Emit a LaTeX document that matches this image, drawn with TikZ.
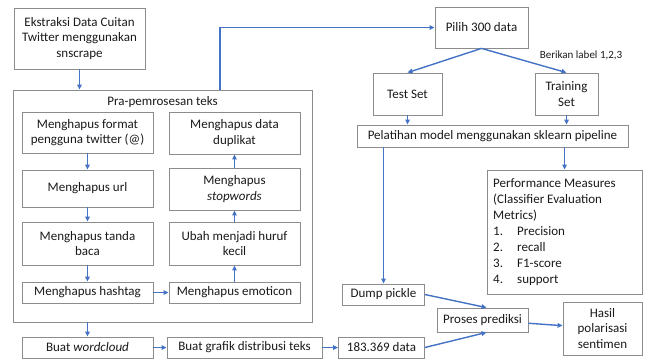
\documentclass[tikz,border=0pt]{standalone}
\usepackage{fontspec}
\setmainfont{Carlito}
\usetikzlibrary{arrows.meta}
\definecolor{arrblue}{HTML}{4472C4}
\definecolor{boxgray}{HTML}{8C8C8C}
\definecolor{txt}{HTML}{1A1A1A}
\tikzset{
  box/.style={draw=boxgray, line width=0.8pt, fill=white, inner sep=0pt, align=center,
    text=txt, font=\fontsize{13}{15.5}\selectfont},
  plain/.style={text=txt, inner sep=0pt, font=\fontsize{13}{15.5}\selectfont},
  arr/.style={draw=arrblue, line width=1.4pt, -{Triangle[length=5pt,width=4.5pt]}},
}
\begin{document}
\begin{tikzpicture}[x=1pt,y=-1pt]
\useasboundingbox (0,0) rectangle (645,360);
% left part
\node[box, minimum width=131, minimum height=61] (ext) at (79.5,38.5) {Ekstraksi Data Cuitan\\Twitter menggunakan\\snscrape};
\node[box, minimum width=299, minimum height=232] (outer) at (162.5,206) {};
\node[plain] (title) at (162.5,102) {Pra-pemrosesan teks};
\node[box, minimum width=131, minimum height=41] (l1) at (87.5,132.5) {Menghapus format\\pengguna twitter (@)};
\node[box, minimum width=131, minimum height=37] (l2) at (87.5,188.5) {Menghapus url};
\node[box, minimum width=131, minimum height=43] (l3) at (87.5,243.5) {Menghapus tanda\\baca};
\node[box, minimum width=131, minimum height=21] (l4) at (87.5,292.5) {Menghapus hashtag};
\node[box, minimum width=131, minimum height=42] (r1) at (234.5,133) {Menghapus data\\duplikat};
\node[box, minimum width=131, minimum height=42] (r2) at (234.5,189) {Menghapus\\\textit{stopwords}};
\node[box, minimum width=131, minimum height=43] (r3) at (234.5,243.5) {Ubah menjadi huruf\\kecil};
\node[box, minimum width=131, minimum height=21] (r4) at (234.5,292.5) {Menghapus emoticon};
\node[box, minimum width=131, minimum height=21] (wc) at (87.5,347.5) {Buat \textit{wordcloud}};
\node[box, minimum width=155, minimum height=21] (gr) at (244.5,347.5) {Buat grafik distribusi teks};
\node[box, minimum width=86, minimum height=21] (d183) at (381.5,347.5) {183.369 data};
% right part
\node[box, minimum width=93, minimum height=41] (pilih) at (481.5,27.5) {Pilih 300 data};
\node[box, minimum width=69, minimum height=42] (test) at (407.5,94) {Test Set};
\node[box, minimum width=63, minimum height=42] (train) at (566.5,94) {Training\\Set};
\node[text=txt, font=\fontsize{11}{12}\selectfont, inner sep=0pt] (lab) at (581,55) {Berikan label 1,2,3};
\node[box, minimum width=271, minimum height=22] (pel) at (492.5,136) {Pelatihan model menggunakan sklearn pipeline};
\node[box, minimum width=155, minimum height=124] (perf) at (564.5,232) {};
\node[plain, align=left, anchor=north west, font=\fontsize{13}{16}\selectfont] (perftxt) at (493,178)
  {Performance Measures\\(Classifier Evaluation\\Metrics)\\\makebox[24pt][l]{1.}Precision\\\makebox[24pt][l]{2.}recall\\\makebox[24pt][l]{3.}F1-score\\\makebox[24pt][l]{4.}support};
\node[box, minimum width=82, minimum height=21] (dump) at (383.5,294.5) {Dump pickle};
\node[box, minimum width=91, minimum height=24] (proses) at (482.5,320) {Proses prediksi};
\node[box, minimum width=79, minimum height=53] (hasil) at (602.5,328.5) {Hasil\\polarisasi\\sentimen};
% arrows
\draw[arr] (ext.south) -- (ext.south |- outer.north);
\draw[arr] (l1) -- (l2);
\draw[arr] (l2) -- (l3);
\draw[arr] (l3) -- (l4);
\draw[arr] (l4) -- (r4);
\draw[arr] (r4) -- (r3);
\draw[arr] (r3) -- (r2);
\draw[arr] (r2) -- (r1);
\draw[arr] (wc.north |- outer.south) -- (wc.north);
\draw[arr] (wc) -- (gr);
\draw[arr] (gr) -- (d183);
\draw[arr] ([xshift=57.5pt]outer.north) |- (pilih.west);
\draw[arr] (pilih.south) -- (test.north);
\draw[arr] (pilih.south) -- (train.north);
\draw[arr] (test.south) -- (test.south |- pel.north);
\draw[arr] (train.south) -- (train.south |- pel.north);
\draw[arr] (perf.north |- pel.south) -- (perf.north);
\draw[arr] (dump.north |- pel.south) -- (dump.north);
\draw[arr] (dump.east) -- ([xshift=4pt]proses.north);
\draw[arr] (d183.east) -- ([xshift=4pt]proses.south);
\draw[arr] (proses) -- (hasil);
\end{tikzpicture}
\end{document}
